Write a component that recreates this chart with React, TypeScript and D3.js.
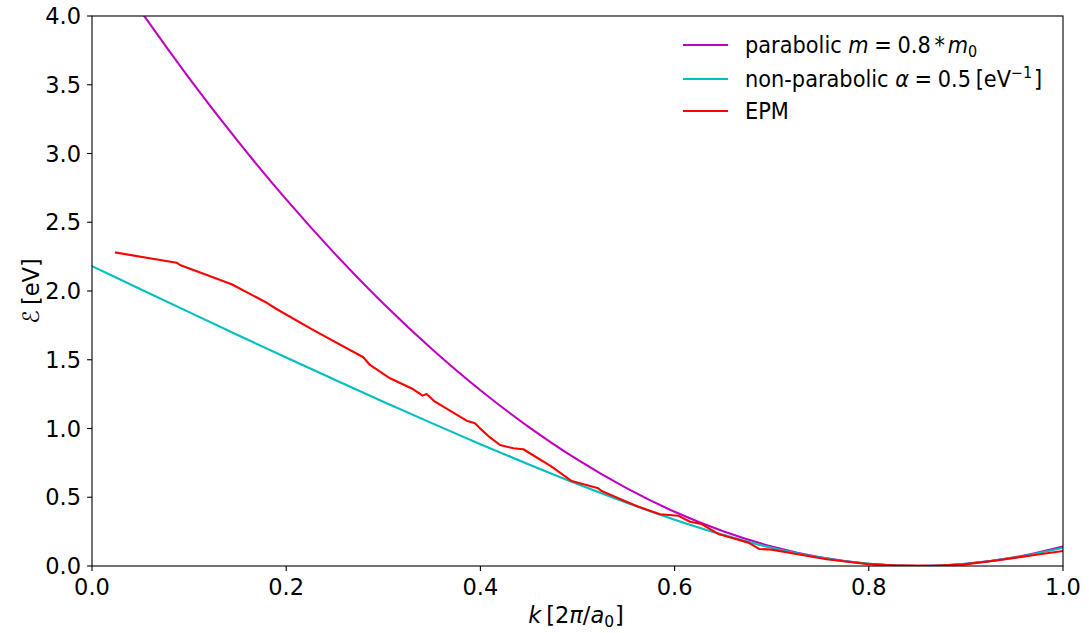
import React from "react";
import * as d3 from "d3";

const kGrid = [0, 0.05, 0.1, 0.15, 0.2, 0.25, 0.3, 0.35, 0.4, 0.45, 0.5, 0.55, 0.6, 0.65, 0.7, 0.75, 0.8, 0.85, 0.9, 0.95, 1.0];
const parabolicE = [4.559, 4.038, 3.549, 3.092, 2.666, 2.272, 1.909, 1.578, 1.278, 1.01, 0.773, 0.568, 0.394, 0.252, 0.142, 0.063, 0.016, 0, 0.016, 0.063, 0.142];
const nonParabolicE = [2.181, 2.013, 1.846, 1.68, 1.516, 1.355, 1.195, 1.039, 0.886, 0.738, 0.596, 0.4615, 0.337, 0.2264, 0.1331, 0.0611, 0.0159, 0, 0.0159, 0.0611, 0.1331];

const epmK = [0.0247, 0.0872, 0.0906, 0.1438, 0.178, 0.19, 0.228, 0.2794, 0.2863, 0.3069, 0.3309, 0.3405, 0.3446, 0.3532, 0.3858, 0.3944, 0.3996, 0.4082, 0.4202, 0.4339, 0.4442, 0.4734, 0.494, 0.5214, 0.5249, 0.5438, 0.5609, 0.585, 0.6038, 0.6158, 0.6279, 0.645, 0.6604, 0.676, 0.687, 0.7, 0.7255, 0.7566, 0.7978, 0.825, 0.866, 0.897, 0.935, 0.969, 1.0];
const epmE = [2.279, 2.206, 2.189, 2.049, 1.922, 1.869, 1.716, 1.518, 1.462, 1.365, 1.285, 1.239, 1.251, 1.195, 1.057, 1.038, 1.001, 0.945, 0.88, 0.856, 0.849, 0.722, 0.618, 0.565, 0.545, 0.487, 0.436, 0.376, 0.366, 0.322, 0.305, 0.233, 0.201, 0.17, 0.124, 0.119, 0.087, 0.049, 0.015, 0.005, 0.002, 0.01, 0.044, 0.078, 0.109];

const xTicks = [0, 0.2, 0.4, 0.6, 0.8, 1.0];
const yTicks = [0, 0.5, 1.0, 1.5, 2.0, 2.5, 3.0, 3.5, 4.0];

const W = 1089, H = 633;
const M = { left: 92, right: 1063, top: 16, bottom: 566 };
const FONT = "DejaVu Sans, sans-serif";
const FS = 22.5;
const SUB = 15.5;
const SX = 0.93;

export default function App() {
  const x = d3.scaleLinear().domain([0, 1]).range([M.left, M.right]);
  const y = d3.scaleLinear().domain([0, 4]).range([M.bottom, M.top]);

  const smooth = d3.line<[number, number]>().x(d => x(d[0])).y(d => y(d[1])).curve(d3.curveCatmullRom);
  const lin = d3.line<[number, number]>().x(d => x(d[0])).y(d => y(d[1]));

  const parPts = kGrid.map((k, i) => [k, parabolicE[i]] as [number, number]);
  const npPts = kGrid.map((k, i) => [k, nonParabolicE[i]] as [number, number]);
  const epmPts = epmK.map((k, i) => [k, epmE[i]] as [number, number]);

  const legendItems = [
    { color: "#bf00bf", y: 45 },
    { color: "#00bfbf", y: 79 },
    { color: "#ff0000", y: 111 },
  ];

  return (
    <svg width={W} height={H} style={{ position: "absolute", left: 0, top: 0, background: "#fff" }} fontFamily={FONT}>
      <defs>
        <clipPath id="plotclip">
          <rect x={M.left} y={M.top} width={M.right - M.left} height={M.bottom - M.top} />
        </clipPath>
      </defs>
      <rect x={0} y={0} width={W} height={H} fill="#fff" />
      <g clipPath="url(#plotclip)" fill="none" strokeWidth={2.1} strokeLinejoin="round" strokeLinecap="square">
        <path d={smooth(parPts) || ""} stroke="#bf00bf" />
        <path d={smooth(npPts) || ""} stroke="#00bfbf" />
        <path d={lin(epmPts) || ""} stroke="#ff0000" />
      </g>
      <rect x={M.left} y={M.top} width={M.right - M.left} height={M.bottom - M.top} fill="none" stroke="#000" strokeWidth={1.1} />
      {xTicks.map(t => (
        <g key={"x" + t}>
          <line x1={x(t)} x2={x(t)} y1={M.bottom} y2={M.bottom + 4.9} stroke="#000" strokeWidth={1.1} />
          <text x={x(t)} y={M.bottom + 29} textAnchor="middle" fontSize={FS} fill="#000">{t.toFixed(1)}</text>
        </g>
      ))}
      {yTicks.map(t => (
        <g key={"y" + t}>
          <line x1={M.left - 4.9} x2={M.left} y1={y(t)} y2={y(t)} stroke="#000" strokeWidth={1.1} />
          <text x={M.left - 11} y={y(t)} dy="0.36em" textAnchor="end" fontSize={FS} fill="#000">{t.toFixed(1)}</text>
        </g>
      ))}
      <text x={576} y={623} textAnchor="middle" fontSize={FS} fill="#000">
        <tspan fontStyle="italic">k</tspan>
        <tspan dx={5}>[2</tspan>
        <tspan fontStyle="italic">π</tspan>
        <tspan>/</tspan>
        <tspan fontStyle="italic">a</tspan>
        <tspan fontSize={SUB} dy={4}>0</tspan>
        <tspan dx={1} dy={-4}>]</tspan>
      </text>
      <text transform={`translate(39, ${(M.top + M.bottom) / 2}) rotate(-90)`} textAnchor="middle" fontSize={FS} fill="#000">
        <tspan>ℰ</tspan>
        <tspan dx={5}>[eV]</tspan>
      </text>
      {legendItems.map(li => (
        <line key={li.color} x1={683} x2={728} y1={li.y} y2={li.y} stroke={li.color} strokeWidth={2.1} />
      ))}
      <text transform={`translate(745, ${legendItems[0].y + 8}) scale(${SX}, 1)`} fontSize={FS} fill="#000">
        <tspan>parabolic </tspan>
        <tspan fontStyle="italic">m</tspan>
        <tspan dx={6}>=</tspan>
        <tspan dx={6}>0.8</tspan>
        <tspan dx={4}>*</tspan>
        <tspan dx={3} fontStyle="italic">m</tspan>
        <tspan fontSize={SUB} dy={4}>0</tspan>
      </text>
      <text transform={`translate(745, ${legendItems[1].y + 8}) scale(${SX}, 1)`} fontSize={FS} fill="#000">
        <tspan>non-parabolic </tspan>
        <tspan fontStyle="italic">α</tspan>
        <tspan dx={6}>=</tspan>
        <tspan dx={6}>0.5</tspan>
        <tspan dx={5}>[eV</tspan>
        <tspan fontSize={SUB} dy={-9}>−1</tspan>
        <tspan dx={2} dy={9}>]</tspan>
      </text>
      <text transform={`translate(745, ${legendItems[2].y + 8}) scale(${SX}, 1)`} fontSize={FS} fill="#000">EPM</text>
    </svg>
  );
}
